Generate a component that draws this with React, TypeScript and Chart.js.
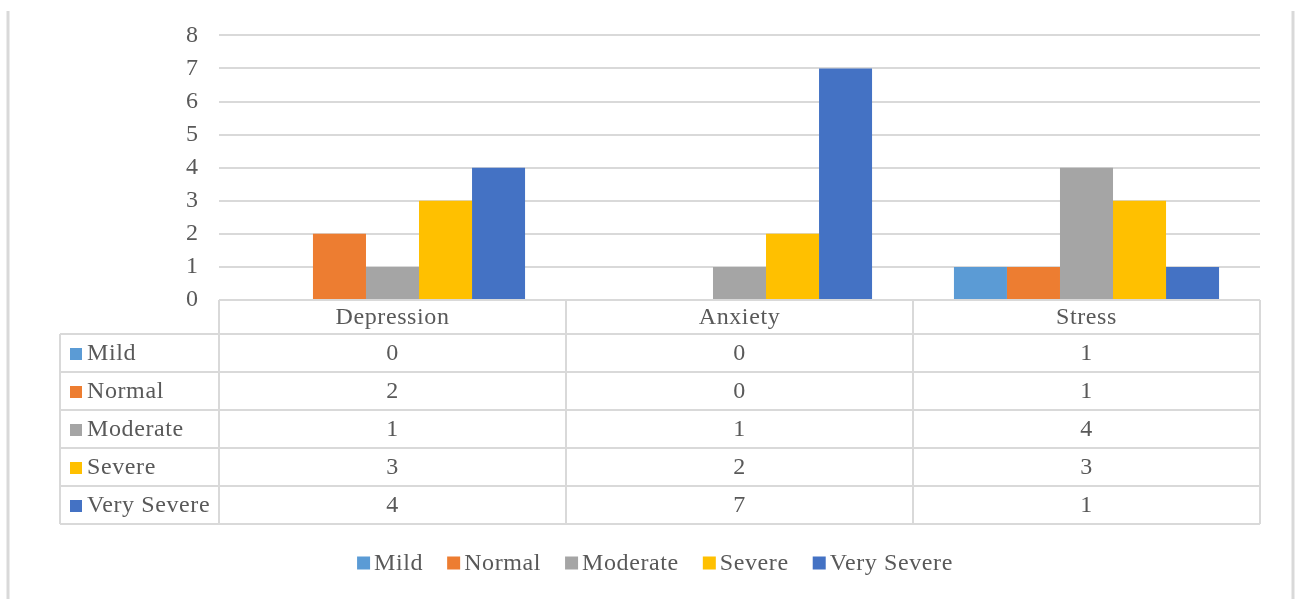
import React, { useEffect, useRef } from "react";
import { Chart, registerables } from "chart.js";

Chart.register(...registerables);

const categories = ["Depression", "Anxiety", "Stress"];
const seriesNames = ["Mild", "Normal", "Moderate", "Severe", "Very Severe"];
const mildValues = [0, 0, 1];
const normalValues = [2, 0, 1];
const moderateValues = [1, 1, 4];
const severeValues = [3, 2, 3];
const verySevereValues = [4, 7, 1];
const seriesColors = ["#5B9BD5", "#ED7D31", "#A5A5A5", "#FFC000", "#4472C4"];
const yTicks = [0, 1, 2, 3, 4, 5, 6, 7, 8];

const FONT = "24px 'Liberation Serif', 'Times New Roman', serif";
const TEXT = "#595959";
const LINE = "#D9D9D9";

const tablePlugin = {
  id: "dataTableAndLegend",
  beforeDraw(chart: any) {
    const ctx = chart.ctx;
    ctx.save();
    ctx.strokeStyle = LINE;
    ctx.lineWidth = 3;
    ctx.beginPath();
    ctx.moveTo(8, 11);
    ctx.lineTo(8, 599);
    ctx.moveTo(1293, 11);
    ctx.lineTo(1293, 599);
    ctx.stroke();
    ctx.restore();
  },
  afterDraw(chart: any) {
    const ctx = chart.ctx;
    const area = chart.chartArea;
    const xs = chart.scales.x;
    const colW = (area.right - area.left) / categories.length;
    const labelLeft = 60;
    const top = area.bottom;
    const headerH = 34;
    const rowH = 38;
    const rowsBottom = top + headerH + rowH * seriesNames.length;
    const datasets = chart.data.datasets;

    ctx.save();
    ctx.strokeStyle = LINE;
    ctx.lineWidth = 2;
    ctx.beginPath();
    ctx.moveTo(area.left, top);
    ctx.lineTo(area.right, top);
    for (let r = 0; r <= seriesNames.length; r++) {
      const y = top + headerH + r * rowH;
      ctx.moveTo(labelLeft, y);
      ctx.lineTo(area.right, y);
    }
    ctx.moveTo(labelLeft, top + headerH);
    ctx.lineTo(labelLeft, rowsBottom);
    for (let c = 0; c <= categories.length; c++) {
      const x = area.left + c * colW;
      ctx.moveTo(x, top);
      ctx.lineTo(x, rowsBottom);
    }
    ctx.stroke();

    ctx.font = FONT;
    try { (ctx as any).letterSpacing = "0.6px"; } catch (e) {}
    ctx.fillStyle = TEXT;
    ctx.textBaseline = "middle";
    ctx.textAlign = "center";
    categories.forEach((cat, i) => {
      const cx = xs.getPixelForValue(i);
      ctx.fillText(cat, cx, top + headerH / 2 + 1);
    });
    datasets.forEach((ds: any, r: number) => {
      const cy = top + headerH + r * rowH + rowH / 2 + 1;
      ctx.fillStyle = ds.backgroundColor;
      ctx.fillRect(70, cy - 6, 12, 12);
      ctx.fillStyle = TEXT;
      ctx.textAlign = "left";
      ctx.fillText(ds.label, 87, cy);
      ctx.textAlign = "center";
      ds.data.forEach((v: number, i: number) => {
        ctx.fillText(String(v), xs.getPixelForValue(i), cy);
      });
    });

    const marker = 13;
    const gapMT = 4;
    const gapItems = 24;
    const widths = datasets.map((ds: any) => marker + gapMT + ctx.measureText(ds.label).width);
    const total = widths.reduce((a: number, b: number) => a + b, 0) + gapItems * (datasets.length - 1);
    let x = 655 - total / 2;
    const ly = 563;
    ctx.textAlign = "left";
    datasets.forEach((ds: any, i: number) => {
      ctx.fillStyle = ds.backgroundColor;
      ctx.fillRect(x, ly - marker / 2, marker, marker);
      ctx.fillStyle = TEXT;
      ctx.fillText(ds.label, x + marker + gapMT, ly + 1);
      x += widths[i] + gapItems;
    });
    ctx.restore();
  },
};

export default function App() {
  const ref = useRef<HTMLCanvasElement | null>(null);
  useEffect(() => {
    if (!ref.current) return;
    const values = [mildValues, normalValues, moderateValues, severeValues, verySevereValues];
    const chart = new Chart(ref.current, {
      type: "bar",
      data: {
        labels: categories,
        datasets: seriesNames.map((name, i) => ({
          label: name,
          data: values[i],
          backgroundColor: seriesColors[i],
          borderWidth: 0,
          categoryPercentage: 0.764,
          barPercentage: 1,
        })),
      },
      options: {
        animation: false,
        responsive: false,
        layout: { padding: { top: 33, right: 39, bottom: 299, left: 0 } },
        plugins: { legend: { display: false }, tooltip: { enabled: false } },
        scales: {
          x: {
            display: false,
            grid: { display: false },
          },
          y: {
            min: 0,
            max: 8,
            afterFit(scale: any) {
              scale.width = 219;
            },
            afterBuildTicks(scale: any) {
              scale.ticks = yTicks.map((v) => ({ value: v }));
            },
            border: { display: false },
            grid: { color: LINE, lineWidth: 2, drawTicks: false },
            ticks: {
              padding: 21,
              color: TEXT,
              font: { family: "'Liberation Serif', 'Times New Roman', serif", size: 24 },
            },
          },
        },
      },
      plugins: [tablePlugin],
    });
    return () => chart.destroy();
  }, []);
  return (
    <div style={{ position: "fixed", left: 0, top: 0, width: 1299, height: 599, background: "#fff" }}>
      <canvas ref={ref} width={1299} height={599} />
    </div>
  );
}
